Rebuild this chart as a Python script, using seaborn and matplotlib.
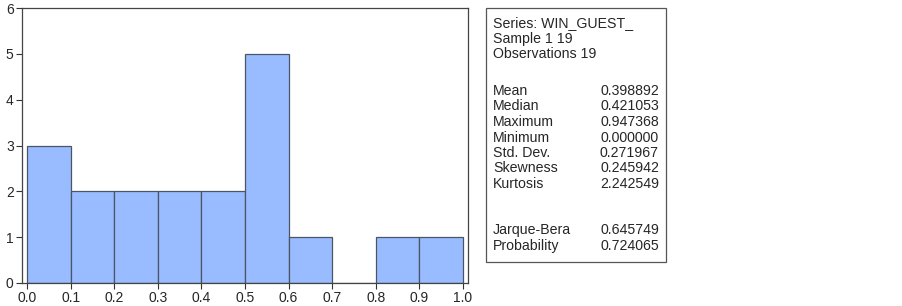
import numpy as np
import pandas as pd
import seaborn as sns
import matplotlib.pyplot as plt
from matplotlib.patches import Rectangle

# histogram data
bin_edges = [0.0, 0.1, 0.2, 0.3, 0.4, 0.5, 0.6, 0.7, 0.8, 0.9, 1.0]
bin_counts = [3, 2, 2, 2, 2, 5, 1, 0, 1, 1]
x_ticks = [0.0, 0.1, 0.2, 0.3, 0.4, 0.5, 0.6, 0.7, 0.8, 0.9, 1.0]
y_ticks = [0, 1, 2, 3, 4, 5, 6]

header_lines = ['Series: WIN_GUEST_', 'Sample 1 19', 'Observations 19']
stat_names = ['Mean', 'Median', 'Maximum', 'Minimum', 'Std. Dev.', 'Skewness', 'Kurtosis']
stat_values = ['0.398892', '0.421053', '0.947368', '0.000000', '0.271967', '0.245942', '2.242549']
test_names = ['Jarque-Bera', 'Probability']
test_values = ['0.645749', '0.724065']

sns.set_style('white')
plt.rcParams['font.family'] = ['Liberation Sans', 'DejaVu Sans']

W, H = 903, 306
fig = plt.figure(figsize=(W / 100, H / 100), dpi=100)

# axes box in pixels: left 22, right 468, top 8, bottom 283
ax = fig.add_axes([22 / W, 1 - 283 / H, (468 - 22) / W, (283 - 8) / H])

mids = [(bin_edges[i] + bin_edges[i + 1]) / 2 for i in range(len(bin_counts))]
df = pd.DataFrame({'x': mids, 'n': bin_counts})
sns.histplot(data=df, x='x', weights='n', bins=bin_edges, ax=ax,
             color='#99bbff', edgecolor='#4a5565', linewidth=0.9, alpha=1)

ax.set_xlim(-0.0115, 1.0115)
ax.set_ylim(0, 6)
ax.set_xticks(x_ticks)
ax.set_xticklabels([f'{t:.1f}' for t in x_ticks])
ax.set_yticks(y_ticks)
ax.set_xlabel('')
ax.set_ylabel('')
ax.tick_params(axis='both', which='both', direction='out', length=4, width=0.8,
               color='#333333', labelsize=10, bottom=True, left=True, pad=2)
for s in ax.spines.values():
    s.set_color('#444444')
    s.set_linewidth(0.9)

# stats box
def fx(px):
    return px / W

def fy(py):
    return 1 - py / H

box = Rectangle((fx(486), fy(262)), fx(666) - fx(486), fy(8) - fy(262),
                transform=fig.transFigure, fill=False, edgecolor='#555555', linewidth=0.9)
fig.patches.append(box)

fs = 10.2
y = 23
for line in header_lines:
    fig.text(fx(493), fy(y), line, fontsize=fs, va='center', ha='left')
    y += 15.5

y = 91
for name, val in zip(stat_names, stat_values):
    fig.text(fx(493), fy(y), name, fontsize=fs, va='center', ha='left')
    fig.text(fx(659), fy(y), val, fontsize=fs, va='center', ha='right')
    y += 15.5

y = 230
for name, val in zip(test_names, test_values):
    fig.text(fx(493), fy(y), name, fontsize=fs, va='center', ha='left')
    fig.text(fx(659), fy(y), val, fontsize=fs, va='center', ha='right')
    y += 16

fig.savefig('out.png', dpi=100)
